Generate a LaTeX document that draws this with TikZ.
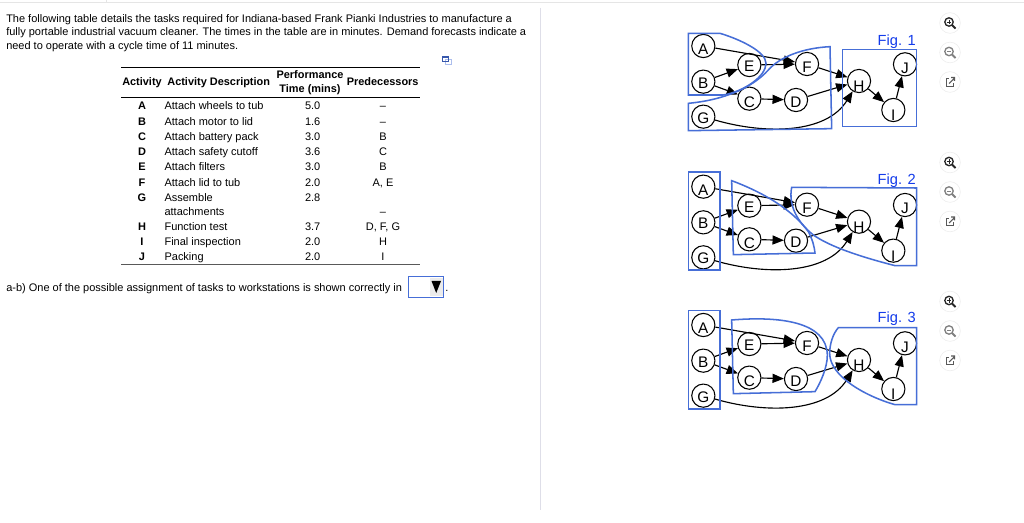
\documentclass[tikz,border=0pt]{standalone}
\usepackage{fontspec}
\setmainfont{Liberation Sans}
\usetikzlibrary{arrows.meta}
\definecolor{figblue}{RGB}{70,110,215}
\definecolor{figtext}{RGB}{20,60,235}
\definecolor{iconbd}{RGB}{236,236,236}
\definecolor{rulegrey}{RGB}{222,222,232}
\tikzset{
 x=0.75pt,y=-0.75pt,
 txt/.style={anchor=base west,inner sep=0pt,font=\fontsize{8.24pt}{10pt}\selectfont},
 ctr/.style={anchor=base,inner sep=0pt,font=\fontsize{8.24pt}{10pt}\selectfont},
 hdr/.style={anchor=base,inner sep=0pt,font=\fontsize{8.2pt}{10pt}\selectfont\bfseries},
 act/.style={anchor=base,inner sep=0pt,font=\fontsize{8.24pt}{10pt}\selectfont\bfseries},
 task/.style={circle,draw,line width=0.8pt,minimum size=17.4pt,inner sep=0pt,font=\fontsize{11.5pt}{13pt}\selectfont,fill=white},
 prec/.style={-{Triangle[length=8.5pt,width=6.8pt]},line width=0.85pt},
 outline/.style={draw=figblue,line width=1.15pt},
 figlabel/.style={anchor=center,inner sep=0pt,text=figtext,font=\fontsize{11pt}{13pt}\selectfont},
 icon/.style={circle,draw=iconbd,fill=white,minimum size=15.5pt,inner sep=0pt},
}
\newcommand{\tl}[2]{\raisebox{-#1pt}[0pt][0pt]{#2}}
% net{prefix}{offset y in zoom px}
\newcommand{\netw}[2]{%
 \node[task] (#1A) at (70,78+#2) {\tl{6.75}{A}};
 \node[task] (#1B) at (70,185+#2) {\tl{5}{B}};
 \node[task] (#1G) at (70,290+#2) {\tl{5}{G}};
 \node[task] (#1E) at (208,135+#2) {\tl{5.25}{E}};
 \node[task] (#1C) at (208,236+#2) {\tl{7}{C}};
 \node[task] (#1F) at (381,132+#2) {\tl{6.5}{F}};
 \node[task] (#1D) at (348,240+#2) {\tl{5.5}{D}};
 \node[task] (#1H) at (537,183+#2) {\tl{8}{H}};
 \node[task] (#1I) at (640,270+#2) {\tl{8}{I}};
 \node[task] (#1J) at (675,133+#2) {\tl{6.75}{J}};
 \draw[prec] (#1A) -- (#1F);
 \draw[prec] (#1B) -- (#1E);
 \draw[prec] (#1B) -- (#1C);
 \draw[prec] (#1E) -- (#1F);
 \draw[prec] (#1C) -- (#1D);
 \draw[prec] (#1F) -- (#1H);
 \draw[prec] (#1D) -- (#1H);
 \draw[prec] (#1H) -- (#1I);
 \draw[prec] (#1I) -- (#1J);
 \draw[prec] (#1G) .. controls (260,345+#2) and (440,340+#2) .. (#1H);
}
\begin{document}
\begin{tikzpicture}
\useasboundingbox (0,0) rectangle (1024,523);
\fill[white] (0,0) rectangle (1024,523);
\draw[black!10,line width=0.6pt] (0,2.5) -- (1024,2.5);
\draw[black!10,line width=0.6pt] (106,0) -- (106,2.5);
\draw[rulegrey,line width=0.75pt] (540.5,8) -- (540.5,510);
% intro
\node[txt] (l1) at (6,22.2) {The following table details the tasks required for Indiana-based Frank Pianki Industries to manufacture a};
\node[txt] (l2) at (6,36) {fully portable industrial vacuum cleaner. The times in the table are in minutes. Demand forecasts indicate a};
\node[txt] (l3) at (6,49.4) {need to operate with a cycle time of 11 minutes.};
% table
\draw[line width=0.6pt] (121,67.5) -- (420,67.5);
\draw[line width=0.6pt] (121,97.5) -- (420,97.5);
\draw[line width=0.6pt,black!65] (121,264.5) -- (420,264.5);
\node[hdr] (h1) at (142,85.7) {Activity};
\node[hdr] (h2) at (218.7,85.7) {Activity Description};
\node[hdr] (h3a) at (310,78.3) {Performance};
\node[hdr] (h3b) at (310,92.3) {Time (mins)};
\node[hdr] (h4) at (382.7,85.7) {Predecessors};
\foreach \nm/\y/\a/\d/\t/\p in {
 a/110/A/Attach wheels to tub/5.0/--,
 b/125.4/B/Attach motor to lid/1.6/--,
 c/140.7/C/Attach battery pack/3.0/B,
 d/155.7/D/Attach safety cutoff/3.6/C,
 e/170.7/E/Attach filters/3.0/B,
 f/186.7/F/Attach lid to tub/2.0/{A, E},
 g/201.7/G/Assemble/2.8/{},
 h/230.7/H/Function test/3.7/{D, F, G},
 i/245.7/I/Final inspection/2.0/H,
 j/260.7/J/Packing/2.0/I}{
 \node[act] (ra\nm) at (142,\y) {\a};
 \node[txt] (rd\nm) at (164.3,\y) {\d};
 \node[ctr] (rt\nm) at (312.7,\y) {\t};
 \node[ctr] (rp\nm) at (383,\y) {\p};
}
\node[txt] (rdg2) at (164.3,215.7) {attachments};
\node[ctr] (rpg2) at (383,215.7) {--};
% question
\node[txt] (q) at (6,291.7) {a-b) One of the possible assignment of tasks to workstations is shown correctly in};
\draw[draw=figblue,line width=0.8pt,fill=white] (408.5,276.5) rectangle (443.5,297.5);
\fill[black!8] (430,278) rectangle (442.5,296);
\fill[black] (431.5,281) -- (441,281) -- (436.2,293) -- cycle;
\node[txt] (qd) at (445,291.7) {.};
% small edit icon
\draw[figblue!45,fill=white,line width=0.6pt] (445.5,59.5) rectangle (451.5,64);
\draw[figblue!80!black,line width=0.7pt] (442,56.5) rectangle (448.5,61.5);
\draw[figblue!80!black,line width=1.2pt] (442,57) -- (448.5,57);
% Fig 1
\begin{scope}[shift={(680,20)},x=0.25pt,y=-0.25pt]
 \netw{p}{0}
 \draw[outline] (25,40) -- (120,40) .. controls (180,58) and (258,95) .. (258,130) .. controls (258,170) and (190,215) .. (130,225) -- (25,225) -- cycle;
 \draw[outline] (25,250) .. controls (130,240) and (215,205) .. (265,150) .. controls (300,110) and (370,84) .. (450,80) -- (455,326) -- (25,332) -- cycle;
 \draw[outline] (487,88) rectangle (710,320);
 \node[figlabel] (pl) at (650,64) {Fig. 1};
\end{scope}
% Fig 2
\begin{scope}[shift={(680,160)},x=0.25pt,y=-0.25pt]
 \netw{q}{2}
 \draw[outline] (25,36) rectangle (120,330);
 \draw[outline] (155,62) .. controls (270,105) and (345,160) .. (385,215) .. controls (398,240) and (403,260) .. (405,279) -- (160,284) -- cycle;
 \draw[outline] (335,82) -- (710,84) -- (710,317) -- (645,317) .. controls (540,290) and (450,260) .. (400,225) .. controls (350,185) and (325,135) .. (335,82) -- cycle;
 \node[figlabel] (ql) at (650,61) {Fig. 2};
\end{scope}
% Fig 3
\begin{scope}[shift={(680,290)},x=0.25pt,y=-0.25pt]
 \netw{r}{27}
 \draw[outline] (25,62) rectangle (120,357);
 \draw[outline] (155,90) .. controls (300,78) and (440,95) .. (442,195) .. controls (442,235) and (420,280) .. (405,305) -- (160,311) -- cycle;
 \draw[outline] (475,113) -- (710,113) -- (710,344) -- (645,344) .. controls (560,320) and (449,260) .. (449,190) .. controls (449,160) and (460,130) .. (475,113) -- cycle;
 \node[figlabel] (rl) at (650,87) {Fig. 3};
\end{scope}
% side icons
\begin{scope}[shift={(950,23)}]
 \foreach \k/\dy in {a/0,b/139.5,c/278.5}{
 \begin{scope}[shift={(0,\dy)}]
  \node[icon] (\k p) at (0,0) {};
  \node[icon] (\k m) at (0,29.5) {};
  \node[icon] (\k o) at (0,59) {};
  \draw[black!85,line width=1pt] (-1,-1) circle[radius=4.2];
  \draw[black!85,line width=1.5pt] (2,2) -- (5.5,5.5);
  \draw[black!85,line width=0.6pt] (-3.2,-1) -- (1.2,-1) (-1,-3.2) -- (-1,1.2);
  \draw[black!50,line width=1pt] (-1,28.5) circle[radius=4.2];
  \draw[black!50,line width=1.5pt] (2,31.5) -- (5.5,35);
  \draw[black!50,line width=0.6pt] (-3.2,28.5) -- (1.2,28.5);
  \draw[black!65,line width=0.7pt] (-1.5,55.5) -- (-4,55.5) -- (-4,63) -- (3.5,63) -- (3.5,60);
  \draw[black!65,line width=0.8pt] (-1,60.5) -- (4.5,55) (1,54.5) -- (4.5,54.5) -- (4.5,58);
 \end{scope}}
\end{scope}
\end{tikzpicture}
\end{document}
